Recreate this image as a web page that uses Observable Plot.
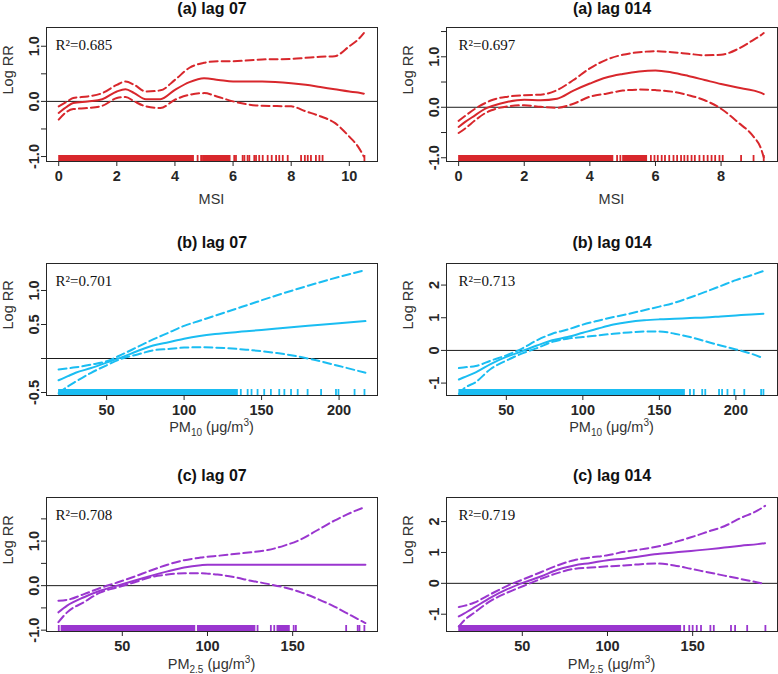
<!DOCTYPE html>
<html>
<head>
<meta charset="utf-8">
<script src="https://cdn.jsdelivr.net/npm/d3@7"></script>
<script src="https://cdn.jsdelivr.net/npm/@observablehq/plot@0.6"></script>
<style>
  body { margin: 0; background: #fff; }
  #wrap { position: relative; width: 778px; height: 674px; overflow: hidden; background: #fff; }
  .cell { position: absolute; }
</style>
</head>
<body>
<div id="wrap"></div>
<script>
// ---------------- DATA ----------------
// (a) MSI, lag 07
const a07_x   = [0, 0.3, 0.5, 1, 1.5, 2, 2.3, 2.6, 3, 3.5, 4, 4.5, 5, 5.5, 6, 7, 8, 8.5, 9, 9.5, 10, 10.3, 10.5];
const a07_fit = [-0.21, -0.09, -0.03, 0.0, 0.04, 0.18, 0.22, 0.15, 0.04, 0.04, 0.21, 0.35, 0.42, 0.39, 0.36, 0.36, 0.33, 0.30, 0.26, 0.22, 0.18, 0.16, 0.14];
const a07_hi  = [-0.09, 0.0, 0.06, 0.09, 0.15, 0.30, 0.36, 0.30, 0.18, 0.20, 0.39, 0.61, 0.70, 0.73, 0.73, 0.76, 0.77, 0.79, 0.81, 0.82, 1.0, 1.12, 1.24];
const a07_lo  = [-0.33, -0.18, -0.14, -0.12, -0.08, 0.06, 0.08, 0.0, -0.09, -0.12, 0.03, 0.12, 0.15, 0.08, 0.0, -0.08, -0.09, -0.18, -0.27, -0.39, -0.64, -0.82, -1.0];
const a07_rugBands = [[0, 4.67], [4.95, 5.93]];
const a07_rugTicks = [4.78, 4.9, 6.04, 6.1, 6.33, 6.39, 6.5, 6.56, 6.73, 6.79, 6.9, 7.02, 7.19, 7.33, 7.48, 7.59, 7.71, 7.88, 8.34, 8.47, 8.57, 8.68, 8.85, 8.97, 9.08, 10.52];

// (a) MSI, lag 014
const a014_x   = [0, 0.2, 0.5, 0.8, 1, 1.5, 2, 2.5, 3, 3.5, 4, 4.5, 5, 5.5, 6, 6.5, 7, 7.5, 8, 8.5, 9, 9.2, 9.3];
const a014_fit = [-0.39, -0.29, -0.16, -0.03, 0.02, 0.11, 0.15, 0.14, 0.17, 0.33, 0.47, 0.59, 0.66, 0.71, 0.73, 0.69, 0.62, 0.54, 0.46, 0.39, 0.33, 0.29, 0.26];
const a014_hi  = [-0.27, -0.17, -0.03, 0.08, 0.14, 0.21, 0.24, 0.25, 0.34, 0.54, 0.77, 0.94, 1.04, 1.09, 1.11, 1.09, 1.06, 1.03, 1.04, 1.15, 1.34, 1.42, 1.47];
const a014_lo  = [-0.51, -0.42, -0.26, -0.12, -0.06, 0.02, 0.04, 0.01, -0.01, 0.07, 0.21, 0.27, 0.33, 0.35, 0.34, 0.31, 0.24, 0.14, -0.03, -0.29, -0.59, -0.79, -0.99];
const a014_rugBands = [[0, 4.73], [5.0, 5.76]];
const a014_rugTicks = [4.83, 4.93, 5.86, 5.97, 6.07, 6.19, 6.29, 6.42, 6.55, 6.66, 6.78, 6.88, 6.98, 7.1, 7.2, 7.34, 7.47, 7.59, 7.71, 7.82, 7.95, 8.05, 8.61, 8.99, 9.3];

// (b) PM10, lag 07
const b07_x   = [19, 25, 30, 40, 50, 60, 70, 80, 90, 100, 110, 120, 140, 160, 180, 200, 217];
const b07_fit = [-0.32, -0.26, -0.21, -0.14, -0.06, 0.02, 0.11, 0.19, 0.24, 0.29, 0.33, 0.36, 0.40, 0.44, 0.48, 0.52, 0.55];
const b07_hi  = [-0.16, -0.145, -0.13, -0.09, -0.04, 0.06, 0.17, 0.28, 0.38, 0.48, 0.555, 0.63, 0.78, 0.93, 1.07, 1.20, 1.30];
const b07_lo  = [-0.51, -0.41, -0.34, -0.21, -0.10, 0.0, 0.06, 0.12, 0.14, 0.16, 0.165, 0.16, 0.13, 0.08, 0.0, -0.11, -0.21];
const b07_rugBands = [[19, 135]];
const b07_rugTicks = [136.6, 141, 143.5, 147.4, 151.7, 156, 161.4, 164.7, 169, 173.3, 179.7, 188.4, 198, 199.6, 210, 216.4];

// (b) PM10, lag 014
const b014_x   = [19, 22, 30, 40, 50, 60, 70, 80, 90, 100, 110, 120, 130, 140, 150, 160, 170, 180, 190, 200, 210, 218];
const b014_fit = [-0.89, -0.83, -0.67, -0.41, -0.20, -0.03, 0.15, 0.31, 0.41, 0.54, 0.67, 0.79, 0.87, 0.92, 0.95, 0.97, 0.99, 1.01, 1.04, 1.07, 1.10, 1.12];
const b014_hi  = [-0.54, -0.52, -0.48, -0.31, -0.15, 0.05, 0.31, 0.51, 0.64, 0.79, 0.91, 1.02, 1.12, 1.23, 1.34, 1.46, 1.62, 1.79, 1.97, 2.15, 2.30, 2.43];
const b014_lo  = [-1.33, -1.18, -0.97, -0.56, -0.31, -0.10, 0.07, 0.26, 0.36, 0.41, 0.46, 0.51, 0.55, 0.58, 0.58, 0.51, 0.41, 0.28, 0.15, 0.03, -0.10, -0.24];
const b014_rugBands = [[19, 167]];
const b014_rugTicks = [170, 172.5, 178, 180, 189, 191, 194.5, 199, 205.5, 216.5, 218];

// (c) PM2.5, lag 07
const c07_x   = [12.5, 17.6, 27.5, 37.3, 47, 56.9, 66.7, 76.5, 86.3, 96.1, 100, 105.9, 115.7, 125.5, 135.3, 145.1, 154.9, 164.7, 174.5, 184.3, 192.7];
const c07_fit = [-0.60, -0.45, -0.26, -0.11, 0.0, 0.11, 0.22, 0.32, 0.41, 0.46, 0.47, 0.47, 0.47, 0.47, 0.47, 0.47, 0.47, 0.47, 0.47, 0.47, 0.47];
const c07_hi  = [-0.34, -0.32, -0.19, -0.05, 0.07, 0.20, 0.34, 0.47, 0.57, 0.63, 0.65, 0.67, 0.71, 0.75, 0.80, 0.90, 1.04, 1.25, 1.46, 1.64, 1.77];
const c07_lo  = [-0.82, -0.60, -0.37, -0.15, -0.04, 0.07, 0.19, 0.25, 0.28, 0.28, 0.27, 0.25, 0.19, 0.11, 0.04, -0.04, -0.15, -0.30, -0.47, -0.67, -0.84];
const c07_rugBands = [[14.1, 93.1], [94.1, 128.4], [140.8, 148.6]];
const c07_rugTicks = [12.7, 129.4, 137.2, 139.2, 150.6, 151.9, 181.4, 188.2, 189.2, 192.1];

// (c) PM2.5, lag 014
const c014_x   = [12.7, 15.7, 21.6, 31.4, 41.2, 51, 60.8, 70.6, 80.4, 90.2, 100, 109.8, 119.6, 129.4, 139.2, 149, 158.8, 168.6, 178.4, 188.2, 192.5];
const c014_fit = [-1.07, -0.98, -0.79, -0.46, -0.19, 0.03, 0.22, 0.44, 0.58, 0.66, 0.75, 0.80, 0.88, 0.95, 1.00, 1.05, 1.10, 1.16, 1.22, 1.27, 1.30];
const c014_hi  = [-0.77, -0.73, -0.63, -0.35, -0.08, 0.14, 0.36, 0.58, 0.75, 0.84, 0.91, 1.02, 1.10, 1.19, 1.33, 1.49, 1.67, 1.85, 2.12, 2.36, 2.51];
const c014_lo  = [-1.40, -1.21, -0.96, -0.57, -0.30, -0.08, 0.14, 0.33, 0.47, 0.51, 0.55, 0.58, 0.62, 0.64, 0.58, 0.47, 0.36, 0.25, 0.14, 0.03, -0.02];
const c014_rugBands = [[12.7, 143.5]];
const c014_rugTicks = [145, 148, 150, 152.4, 154.9, 160.4, 162.4, 172.5, 174.9, 182, 192.7];

// titles, R2 labels, axis texts, ticks
const titles = ["(a) lag 07", "(a) lag 014", "(b) lag 07", "(b) lag 014", "(c) lag 07", "(c) lag 014"];
const r2Labels = ["R\u00b2=0.685", "R\u00b2=0.697", "R\u00b2=0.701", "R\u00b2=0.713", "R\u00b2=0.708", "R\u00b2=0.719"];
const yTitle = "Log RR";
const xTitleMSI  = [["MSI", 0]];
const xTitlePM10 = [["PM", 0], ["10", 1], [" (\u03bcg/m", 0], ["3", 2], [")", 0]];
const xTitlePM25 = [["PM", 0], ["2.5", 1], [" (\u03bcg/m", 0], ["3", 2], [")", 0]];

const xTicksMSI07  = [0, 2, 4, 6, 8, 10];
const xTicksMSI014 = [0, 2, 4, 6, 8];
const xTicksPM10   = [50, 100, 150, 200];
const xTicksPM25   = [50, 100, 150];

const yTicksA07  = [-1, -0.5, 0, 0.5, 1];          const yLabA07  = ["-1.0", "", "0.0", "", "1.0"];
const yTicksA014 = [-1, -0.5, 0, 0.5, 1, 1.5];     const yLabA014 = ["-1.0", "", "0.0", "", "1.0", ""];
const yTicksB07  = [-0.5, 0, 0.5, 1];              const yLabB07  = ["-0.5", "", "0.5", "1.0"];
const yTicksB014 = [-1, 0, 1, 2];                  const yLabB014 = ["-1", "0", "1", "2"];
const yTicksC07  = [-1, -0.5, 0, 0.5, 1, 1.5];     const yLabC07  = ["-1.0", "", "0.0", "", "1.0", ""];
const yTicksC014 = [-1, 0, 1, 2];                  const yLabC014 = ["-1", "0", "1", "2"];

const colRed = "#D8272C", colBlue = "#1ABDF2", colPurple = "#9A36CF";

// ---------------- LAYOUT ----------------
const FONT = "'Liberation Sans', Arial, Helvetica, sans-serif";
const SERIF = "'Liberation Serif', 'Times New Roman', serif";
const INK = "#262626";

const cols = [
  {left: 0, width: 389, ml: 46, mr: 12, r2dx: 9},
  {left: 389, width: 389, ml: 57, mr: 1, r2dx: 12}
];
const rows = [
  {top: 0, height: 225, mt: 27, mb: 64, titleDy: 14, xTitleDy: 43},
  {top: 225, height: 225, mt: 38, mb: 55, titleDy: 16, xTitleDy: 37},
  {top: 450, height: 224, mt: 47, mb: 43, titleDy: 17, xTitleDy: 38}
];

function table(xs, fit, hi, lo) {
  return xs.map((x, i) => ({x, fit: fit[i], hi: hi[i], lo: lo[i]}));
}

const panels = [
  {row: 0, col: 0, data: table(a07_x, a07_fit, a07_hi, a07_lo), bands: a07_rugBands, rug: a07_rugTicks,
   xdom: [-0.42, 10.97], ydom: [-1.09, 1.34], xticks: xTicksMSI07, yticks: yTicksA07, ylab: yLabA07, color: colRed, xTitle: xTitleMSI},
  {row: 0, col: 1, data: table(a014_x, a014_fit, a014_hi, a014_lo), bands: a014_rugBands, rug: a014_rugTicks,
   xdom: [-0.37, 9.72], ydom: [-1.074, 1.58], xticks: xTicksMSI014, yticks: yTicksA014, ylab: yLabA014, color: colRed, xTitle: xTitleMSI},
  {row: 1, col: 0, data: table(b07_x, b07_fit, b07_hi, b07_lo), bands: b07_rugBands, rug: b07_rugTicks,
   xdom: [11.2, 224.8], ydom: [-0.544, 1.397], xticks: xTicksPM10, yticks: yTicksB07, ylab: yLabB07, color: colBlue, xTitle: xTitlePM10},
  {row: 1, col: 1, data: table(b014_x, b014_fit, b014_hi, b014_lo), bands: b014_rugBands, rug: b014_rugTicks,
   xdom: [10.9, 227.2], ydom: [-1.38, 2.66], xticks: xTicksPM10, yticks: yTicksB014, ylab: yLabB014, color: colBlue, xTitle: xTitlePM10},
  {row: 2, col: 0, data: table(c07_x, c07_fit, c07_hi, c07_lo), bands: c07_rugBands, rug: c07_rugTicks,
   xdom: [5.5, 199.8], ydom: [-1.03, 1.98], xticks: xTicksPM25, yticks: yTicksC07, ylab: yLabC07, color: colPurple, xTitle: xTitlePM25},
  {row: 2, col: 1, data: table(c014_x, c014_fit, c014_hi, c014_lo), bands: c014_rugBands, rug: c014_rugTicks,
   xdom: [5.5, 199.8], ydom: [-1.56, 2.78], xticks: xTicksPM25, yticks: yTicksC014, ylab: yLabC014, color: colPurple, xTitle: xTitlePM25}
];

const wrap = document.getElementById("wrap");

panels.forEach((p, k) => {
  const R = rows[p.row], C = cols[p.col];
  const boxH = R.height - R.mt - R.mb;
  const rugH = (p.ydom[1] - p.ydom[0]) * 6 / boxH;
  const y0 = p.ydom[0], y1 = p.ydom[0] + rugH;
  const labMap = new Map(p.yticks.map((t, i) => [t, p.ylab[i]]));

  const svg = Plot.plot({
    width: C.width, height: R.height,
    marginLeft: C.ml, marginRight: C.mr, marginTop: R.mt, marginBottom: R.mb,
    style: {fontFamily: FONT, background: "transparent", color: INK, overflow: "visible"},
    x: {domain: p.xdom, label: null},
    y: {domain: p.ydom, label: null},
    marks: [
      Plot.ruleY([0], {stroke: "#1a1a1a", strokeWidth: 1}),
      Plot.rect(p.bands, {x1: d => d[0], x2: d => d[1], y1: y0, y2: y1, fill: p.color}),
      Plot.ruleX(p.rug, {x: d => d, y1: y0, y2: y1, stroke: p.color, strokeWidth: 1.8}),
      Plot.line(p.data, {x: "x", y: "lo", stroke: p.color, strokeWidth: 2, strokeDasharray: "8,4", curve: "monotone-x"}),
      Plot.line(p.data, {x: "x", y: "hi", stroke: p.color, strokeWidth: 2, strokeDasharray: "8,4", curve: "monotone-x"}),
      Plot.line(p.data, {x: "x", y: "fit", stroke: p.color, strokeWidth: 2, curve: "monotone-x"}),
      Plot.frame({stroke: INK, strokeWidth: 1}),
      Plot.axisX({ticks: p.xticks, tickSize: 5, tickPadding: 4, fontSize: 14.5, fontWeight: "bold", label: null, tickFormat: d => String(d)}),
      Plot.axisY({ticks: p.yticks, tickSize: 5, tickPadding: 3, tickRotate: -90, fontSize: 14.5, fontWeight: "bold", label: null, tickFormat: d => labMap.get(d)}),
      Plot.text([titles[k]], {frameAnchor: "top", lineAnchor: "bottom", dy: -R.titleDy, fontSize: 16, fontWeight: "bold", fill: "#111"}),
      Plot.text([r2Labels[k]], {frameAnchor: "top-left", textAnchor: "start", lineAnchor: "bottom", dx: C.r2dx, dy: 22, fontSize: 15, fontFamily: SERIF, fill: "#111"}),
      Plot.text([yTitle], {frameAnchor: "left", rotate: -90, dx: -38, fontSize: 14.5, fill: "#333"})
    ]
  });

  // x axis title (with sub/superscripts) as real text
  const sel = d3.select(svg);
  const cx = C.ml + (C.width - C.ml - C.mr) / 2;
  const by = R.height - R.mb + R.xTitleDy;
  const t = sel.append("text")
    .attr("x", cx).attr("y", by)
    .attr("text-anchor", "middle")
    .attr("font-family", FONT).attr("font-size", 14.5).attr("fill", "#333");
  let shift = 0;
  p.xTitle.forEach(([txt, kind]) => {
    const target = kind === 1 ? 4 : kind === 2 ? -6 : 0;
    const ts = t.append("tspan").attr("dy", target - shift).text(txt);
    if (kind) ts.attr("font-size", 10);
    shift = target;
  });

  const div = document.createElement("div");
  div.className = "cell";
  div.style.left = C.left + "px";
  div.style.top = R.top + "px";
  div.appendChild(svg);
  wrap.appendChild(div);
});
</script>
</body>
</html>
